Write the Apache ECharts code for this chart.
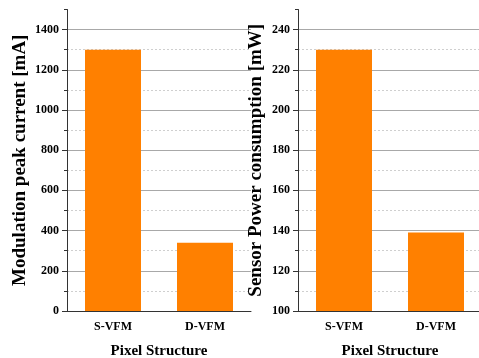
<!DOCTYPE html>
<html><head><meta charset="utf-8">
<script src="https://cdn.jsdelivr.net/npm/echarts@6/dist/echarts.min.js"></script>
<style>html,body{margin:0;padding:0;background:#fff}#c{width:479px;height:358px}</style>
</head><body><div id="c"></div>
<script>
const categories = ['S-VFM', 'D-VFM'];
const currentValues = [1300, 340];
const powerValues = [230, 139];
const xTitle = 'Pixel Structure';
const leftTitle = 'Modulation peak current [mA]';
const rightTitle = 'Sensor Power consumption [mW]';

const FONT = '"Liberation Serif", "Times New Roman", serif';
const AXIS = '#333';
const BAR = '#ff8000';

function xAx(grid) {
  return [{
    type: 'category', gridIndex: grid, data: categories, z: 3, position: 'bottom',
    axisLine: {lineStyle: {color: AXIS, width: 1}},
    axisTick: {alignWithLabel: true, length: 5, lineStyle: {color: AXIS}},
    axisLabel: {color: '#000', fontFamily: FONT, fontWeight: 'bold', fontSize: 12, margin: 10},
    name: xTitle, nameLocation: 'middle', nameGap: 33,
    nameTextStyle: {color: '#000', fontFamily: FONT, fontWeight: 'bold', fontSize: 15}
  }, {
    type: 'category', gridIndex: grid, data: categories, z: 3, position: 'bottom',
    axisLine: {show: false},
    axisTick: {length: 3, lineStyle: {color: AXIS}},
    axisLabel: {show: false}
  }];
}
function yAx(grid, min, max, major, minor, title, gap, fs) {
  return [{
    type: 'value', gridIndex: grid, min: min, max: max, interval: major, z: 1, position: 'left',
    axisLine: {show: true, lineStyle: {color: AXIS}},
    axisTick: {show: true, length: 5, lineStyle: {color: AXIS}},
    axisLabel: {color: '#000', fontFamily: FONT, fontWeight: 'bold', fontSize: 12, margin: 8, showMaxLabel: false,
      formatter: v => String(v)},
    splitLine: {show: true, showMinLine: false, showMaxLine: false, lineStyle: {color: '#a8a8a8', width: 1}},
    name: title, nameLocation: 'middle', nameGap: gap,
    nameTextStyle: {color: '#000', fontFamily: FONT, fontWeight: 'bold', fontSize: fs}
  }, {
    type: 'value', gridIndex: grid, min: min, max: max, interval: minor, z: 0, position: 'left',
    axisLine: {show: false},
    axisTick: {show: true, length: 3, lineStyle: {color: AXIS}},
    axisLabel: {show: false},
    splitLine: {show: true, showMinLine: false, showMaxLine: false, lineStyle: {color: '#cfcfcf', width: 1, type: [2, 2]}}
  }];
}

const chart = echarts.init(document.getElementById('c'));
chart.setOption({
  animation: false,
  grid: [
    {left: 67, top: 9.5, width: 184, height: 301.5, outerBoundsMode: 'none', containLabel: false},
    {left: 298, top: 9.5, width: 184, height: 301.5, outerBoundsMode: 'none', containLabel: false}
  ],
  xAxis: [...xAx(0), ...xAx(1)],
  yAxis: [...yAx(0, 0, 1500, 200, 100, leftTitle, 37, 19), ...yAx(1, 100, 250, 20, 10, rightTitle, 32, 19)],
  series: [
    {type: 'bar', xAxisIndex: 0, yAxisIndex: 0, data: currentValues, barWidth: 56, z: 2, itemStyle: {color: BAR}},
    {type: 'bar', xAxisIndex: 2, yAxisIndex: 2, data: powerValues, barWidth: 56, z: 2, itemStyle: {color: BAR}}
  ]
});
</script></body></html>
